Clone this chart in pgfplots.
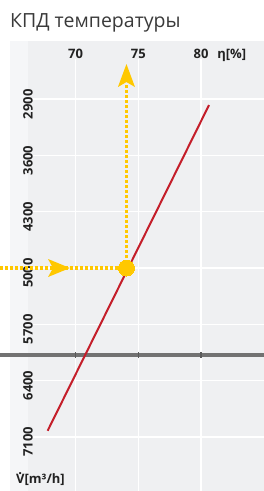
\documentclass[border=0pt]{standalone}
\usepackage{fontspec}
\setmainfont{Open Sans}
\usepackage{pgfplots}
\pgfplotsset{compat=1.18}
\usetikzlibrary{arrows.meta}
\definecolor{panel}{HTML}{EFF0F2}
\definecolor{strip}{HTML}{F5F6F8}
\definecolor{sep}{HTML}{727272}
\definecolor{sepdark}{HTML}{5A5A5A}
\definecolor{redl}{HTML}{C41E2A}
\definecolor{yel}{HTML}{FFC800}
\definecolor{txt}{HTML}{222222}
\definecolor{titlec}{HTML}{3A3A3A}
\newcommand{\Vdot}{\ooalign{V\cr\hidewidth\raisebox{0.70em}{.}\hidewidth\cr}}
\begin{document}
\begin{tikzpicture}
\useasboundingbox (0bp,0bp) rectangle (264bp,-491bp);
\fill[panel] (10bp,-41bp) rectangle (264bp,-491bp);
\fill[strip] (10bp,-41bp) rectangle (28bp,-491bp);
\node[anchor=base west, inner sep=0pt, text=titlec, font=\fontsize{19.5bp}{22bp}\selectfont] at (10bp,-27bp) {КПД температуры};
\begin{axis}[
  at={(28bp,-59bp)}, anchor=north west,
  scale only axis, width=236bp, height=432bp,
  xmin=66.215, xmax=85.02, ymin=2400.5, ymax=7773.6,
  y dir=reverse,
  clip=false,
  axis line style={draw=none},
  major tick length=0pt,
  xtick={70,75,80},
  ytick={2900,3600,4300,5000,5700,6400,7100},
  grid=major,
  major grid style={draw=white, line width=1.4bp},
  xticklabel pos=right,
  scaled ticks=false,
  /pgf/number format/assume math mode=true,
  /pgf/number format/1000 sep={},
  xticklabel style={anchor=base, yshift=0.7bp, inner sep=0pt, text=txt, font=\fontsize{13bp}{15bp}\selectfont\bfseries},
  yticklabel style={rotate=90, anchor=center, xshift=-5bp, inner sep=0pt, text=txt, font=\fontsize{13bp}{15bp}\selectfont\bfseries},
]
% separator line
\addplot[draw=sep, line width=3.3bp] coordinates {(63.98,6082) (85.02,6082)};
\addplot[sepdark, only marks, mark=|, mark size=3bp, mark options={draw=sepdark, line width=1.2bp}] coordinates {(70,6082) (75,6082) (80,6082)};
% efficiency line
\addplot[draw=redl, line width=2bp] coordinates {(67.78,7024) (80.64,2973)};
% yellow guides
\addplot[draw=yel, line width=3.2bp, dash pattern=on 3bp off 2bp] coordinates {(63.98,5000) (74.06,5000)};
\addplot[draw=yel, line width=3.2bp, dash pattern=on 3bp off 2bp] coordinates {(74.06,5000) (74.06,2720)};
\addplot[fill=yel, draw=none] coordinates {(69.56,5000) (67.81,4888) (68.21,5000) (67.81,5112)} -- cycle;
\addplot[fill=yel, draw=none] coordinates {(74.06,2463) (73.38,2749) (74.06,2687) (74.74,2749)} -- cycle;
\addplot[yel, only marks, mark=*, mark size=8bp, mark options={fill=yel, draw=yel, line width=0pt}] coordinates {(74.06,5000)};
\node[anchor=base, inner sep=0pt, text=txt, font=\fontsize{13bp}{15bp}\selectfont\bfseries] at (axis cs:82.45,2392) {η[\%]};
\node[anchor=base west, inner sep=0pt, text=txt, font=\fontsize{13bp}{15bp}\selectfont\bfseries] at (axis cs:65.25,7685) {\Vdot[m³/h]};
\end{axis}
\end{tikzpicture}
\end{document}
